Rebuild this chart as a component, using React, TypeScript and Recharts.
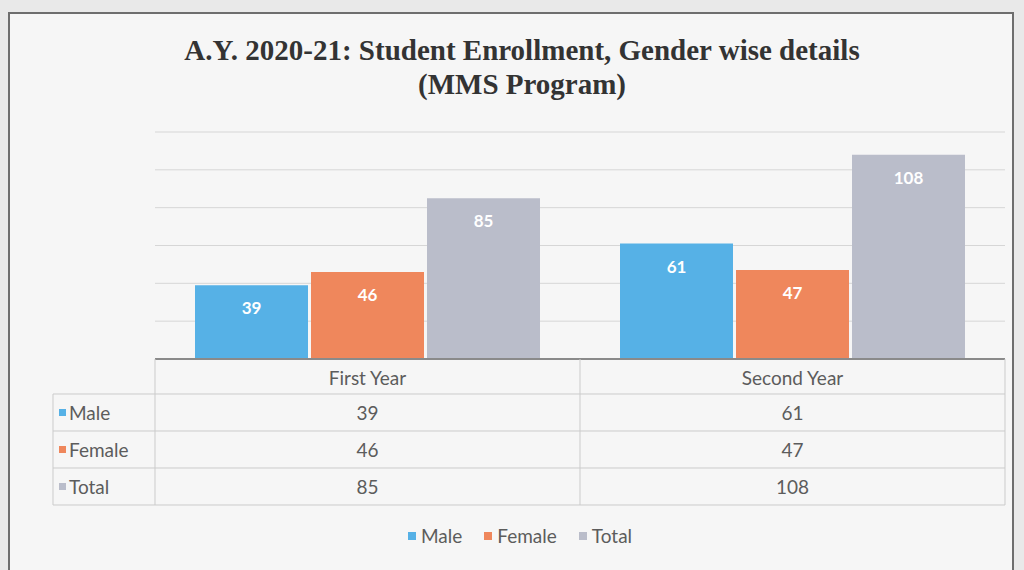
import React from 'react';
import { BarChart, Bar, XAxis, YAxis, CartesianGrid, Legend, LabelList } from 'recharts';

const categories = ['First Year', 'Second Year'];
const male = [39, 61];
const female = [46, 47];
const total = [85, 108];
const yTicks = [0, 20, 40, 60, 80, 100, 120];

const series = [
  { key: 'Male', values: male, color: '#56b1e6' },
  { key: 'Female', values: female, color: '#ef875c' },
  { key: 'Total', values: total, color: '#babdca' },
];

const data = categories.map((c, i) => ({
  name: c,
  Male: male[i],
  Female: female[i],
  Total: total[i],
}));

const W = 1024;
const H = 570;
const M = { top: 132, right: 19, bottom: 61, left: 155 };
const PLOT_W = W - M.left - M.right;
const FONT = 'Lato, "Open Sans", sans-serif';
const TEXT = '#5c5c5c';
const LINE = '#cbcbcb';

// header row + one row per series, drawn under each category
const HEAD_H = 35;
const ROW_H = 37;
const LABEL_COL_W = 102;

function TableTick(props: any) {
  const { x, y, payload } = props;
  const idx = payload.index;
  const bw = PLOT_W / categories.length;
  const left = x - bw / 2;
  const right = x + bw / 2;
  const bottom = y + HEAD_H + ROW_H * series.length;
  const last = idx === categories.length - 1;

  return (
    <g fontFamily={FONT} fontSize={19} fill={TEXT}>
      <line x1={left} x2={left} y1={y} y2={bottom} stroke={LINE} />
      {last && <line x1={right} x2={right} y1={y} y2={bottom} stroke={LINE} />}
      <text x={x} y={y + HEAD_H / 2 + 1} textAnchor="middle" dominantBaseline="central">
        {payload.value}
      </text>
      {series.map((s, r) => {
        const top = y + HEAD_H + ROW_H * r;
        return (
          <g key={s.key}>
            <line
              x1={idx === 0 ? left - LABEL_COL_W : left}
              x2={right}
              y1={top}
              y2={top}
              stroke={LINE}
            />
            <text x={x} y={top + ROW_H / 2} textAnchor="middle" dominantBaseline="central">
              {s.values[idx]}
            </text>
            {idx === 0 && (
              <g>
                <rect x={left - LABEL_COL_W + 6} y={top + ROW_H / 2 - 3.5} width={7} height={7} fill={s.color} />
                <text x={left - LABEL_COL_W + 16} y={top + ROW_H / 2} dominantBaseline="central">
                  {s.key}
                </text>
              </g>
            )}
          </g>
        );
      })}
      <line x1={idx === 0 ? left - LABEL_COL_W : left} x2={right} y1={bottom} y2={bottom} stroke={LINE} />
      {idx === 0 && (
        <line
          x1={left - LABEL_COL_W}
          x2={left - LABEL_COL_W}
          y1={y + HEAD_H}
          y2={bottom}
          stroke={LINE}
        />
      )}
    </g>
  );
}

function LegendContent(props: any) {
  const order = series.map((s) => s.key);
  const payload = [...(props.payload || [])].sort(
    (a: any, b: any) => order.indexOf(a.value) - order.indexOf(b.value)
  );
  return (
    <div style={{ display: 'flex', justifyContent: 'center', fontFamily: FONT, fontSize: 19, color: TEXT }}>
      {payload.map((p: any) => (
        <div key={p.value} style={{ display: 'flex', alignItems: 'center', margin: '0 11px' }}>
          <span style={{ width: 8, height: 8, background: p.color, marginRight: 5, display: 'inline-block' }} />
          <span>{p.value}</span>
        </div>
      ))}
    </div>
  );
}

export default function App() {
  return (
    <div style={{ position: 'absolute', left: 0, top: 0, width: W, height: H, background: '#e9e9e9', overflow: 'hidden' }}>
      <div
        style={{
          position: 'absolute',
          left: 8,
          top: 12,
          width: 1002,
          height: 580,
          border: '2px solid #6e6e6e',
          background: '#f6f6f6',
        }}
      />
      <div
        style={{
          position: 'absolute',
          left: 22,
          top: 33,
          width: 1000,
          textAlign: 'center',
          fontFamily: '"Liberation Serif", "DejaVu Serif", serif',
          fontWeight: 'bold',
          fontSize: 29,
          lineHeight: '34px',
          color: '#333',
        }}
      >
        A.Y. 2020-21: Student Enrollment, Gender wise details
        <br />
        (MMS Program)
      </div>
      <div style={{ position: 'absolute', left: 0, top: 0 }}>
        <BarChart width={W} height={H} data={data} margin={M} barCategoryGap={40} barGap={3}>
          <CartesianGrid vertical={false} stroke="#d6d6d6" />
          <YAxis hide domain={[0, 120]} ticks={yTicks} />
          <XAxis
            dataKey="name"
            height={150}
            axisLine={{ stroke: '#8a8a8a', strokeWidth: 2 }}
            tickLine={false}
            tickSize={0}
            tickMargin={0}
            interval={0}
            tick={<TableTick />}
          />
          <Legend
            verticalAlign="middle"
            wrapperStyle={{ top: 524, left: 0, width: W + 16 }}
            content={<LegendContent />}
          />
          {series.map((s) => (
            <Bar key={s.key} dataKey={s.key} fill={s.color} isAnimationActive={false}>
              <LabelList
                dataKey={s.key}
                position="insideTop"
                offset={17}
                fill="#ffffff"
                fontSize={17}
                fontWeight="bold"
                fontFamily={FONT}
              />
            </Bar>
          ))}
        </BarChart>
      </div>
    </div>
  );
}
